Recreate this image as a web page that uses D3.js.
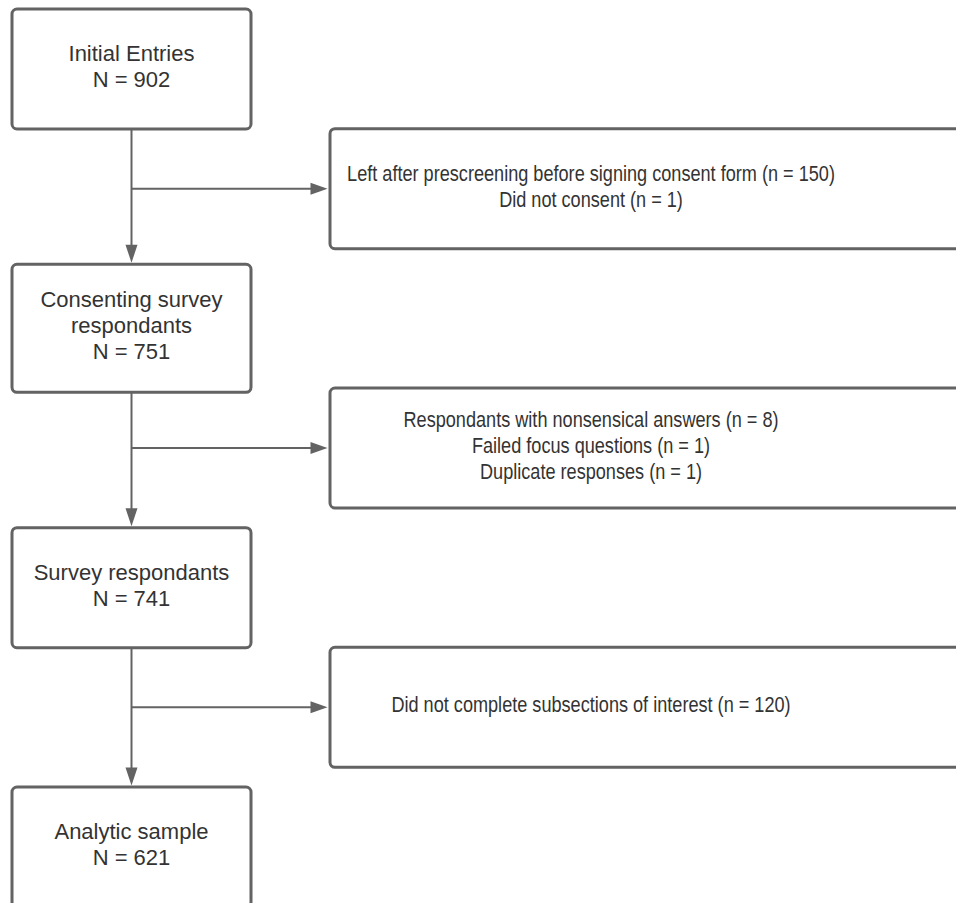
<!DOCTYPE html>
<html>
<head>
<meta charset="utf-8">
<script src="https://cdn.jsdelivr.net/npm/d3@7"></script>
<style>
  html, body { margin: 0; padding: 0; background: #ffffff; }
  svg { display: block; overflow: hidden; }
</style>
</head>
<body>
<svg id="chart" width="956" height="903"></svg>
<script>
// ---- data ----
const stageLabels = [
  ["Initial Entries"],
  ["Consenting survey", "respondants"],
  ["Survey respondants"],
  ["Analytic sample"]
];
const stageCounts = [902, 751, 741, 621];
const exclusionReasons = [
  ["Left after prescreening before signing consent form", "Did not consent"],
  ["Respondants with nonsensical answers", "Failed focus questions", "Duplicate responses"],
  ["Did not complete subsections of interest"]
];
const exclusionCounts = [
  [150, 1],
  [8, 1, 1],
  [120]
];

// ---- layout ----
const W = 956, H = 903;
const svg = d3.select("#chart");
const stroke = "#636363";
const textColor = "#333333";
const fontSize = 22;
const lineH = 26;

const yRow = d3.scaleLinear().domain([0, stageCounts.length - 1]).range([69, 847]);
const mainX = d3.scaleLinear().domain([0, 1]).range([12, 251]);   // left/right of main boxes
const sideX = d3.scaleLinear().domain([0, 1]).range([330, 1060]); // side boxes (cropped at right)
const spineX = 131.5;
const sideTextX = 591;

// detect narrow font availability
function measure(fam) {
  const t = svg.append("text").attr("font-family", fam).attr("font-size", fontSize)
    .text("Did not complete subsections of interest");
  const w = t.node().getComputedTextLength();
  t.remove();
  return w;
}
const wNarrow = measure("'Liberation Sans Narrow'");
const wRegular = measure("'Liberation Sans'");
const narrowOK = wNarrow / wRegular < 0.9;
const sideFamily = narrowOK ? "'Liberation Sans Narrow', 'Liberation Sans', Arial, sans-serif" : "'Liberation Sans', Arial, sans-serif";
const sideScale = narrowOK ? 1 : 0.824;

const gLines = svg.append("g");
const gBoxes = svg.append("g");

function boxHeight(nLines) { return 104 + 8 * nLines; }

// main stage boxes
const stages = stageCounts.map((n, i) => ({
  i, n, lines: stageLabels[i].concat([`N = ${n}`])
}));
stages.forEach(s => {
  s.cy = yRow(s.i);
  s.h = boxHeight(s.lines.length);
  s.top = s.cy - s.h / 2;
  s.bottom = s.cy + s.h / 2;
});

gBoxes.selectAll("rect.main").data(stages).join("rect")
  .attr("class", "main")
  .attr("x", mainX(0)).attr("width", mainX(1) - mainX(0))
  .attr("y", d => d.top).attr("height", d => d.h)
  .attr("rx", 5).attr("ry", 5)
  .attr("fill", "#fff").attr("stroke", stroke).attr("stroke-width", 3);

const mainText = gBoxes.selectAll("text.main").data(stages).join("text")
  .attr("class", "main")
  .attr("font-family", "'Liberation Sans', Arial, sans-serif")
  .attr("font-size", fontSize).attr("fill", textColor)
  .attr("text-anchor", "middle");
mainText.each(function(d) {
  const first = d.cy - (d.lines.length - 1) * lineH / 2 + 5;
  d3.select(this).selectAll("tspan").data(d.lines).join("tspan")
    .attr("x", spineX).attr("y", (l, k) => first + k * lineH).text(l => l);
});

// connectors
function arrowDown(x, tipY) {
  return `M${x - 6},${tipY - 18}L${x + 6},${tipY - 18}L${x},${tipY}Z`;
}
function arrowRight(tipX, y) {
  return `M${tipX - 17},${y - 6}L${tipX - 17},${y + 6}L${tipX},${y}Z`;
}
for (let i = 0; i < stages.length - 1; i++) {
  const a = stages[i], b = stages[i + 1];
  gLines.append("line")
    .attr("x1", spineX).attr("x2", spineX)
    .attr("y1", a.bottom).attr("y2", b.top - 14)
    .attr("stroke", stroke).attr("stroke-width", 2);
  gLines.append("path").attr("d", arrowDown(spineX, b.top - 1.5)).attr("fill", stroke);
}

// side exclusion boxes
const sides = exclusionCounts.map((counts, i) => ({
  i,
  lines: exclusionReasons[i].map((r, k) => `${r} (n = ${counts[k]})`)
}));
sides.forEach(s => {
  s.cy = yRow(s.i + 0.5) - 10;
  s.h = 120;
  s.top = s.cy - s.h / 2;
});

sides.forEach(s => {
  gLines.append("line")
    .attr("x1", spineX).attr("x2", sideX(0) - 14)
    .attr("y1", s.cy).attr("y2", s.cy)
    .attr("stroke", stroke).attr("stroke-width", 2);
  gLines.append("path").attr("d", arrowRight(sideX(0) - 2.5, s.cy)).attr("fill", stroke);
});

gBoxes.selectAll("rect.side").data(sides).join("rect")
  .attr("class", "side")
  .attr("x", sideX(0)).attr("width", sideX(1) - sideX(0))
  .attr("y", d => d.top).attr("height", d => d.h)
  .attr("rx", 5).attr("ry", 5)
  .attr("fill", "#fff").attr("stroke", stroke).attr("stroke-width", 3);

const sideText = gBoxes.selectAll("text.side").data(sides).join("text")
  .attr("class", "side")
  .attr("font-family", sideFamily)
  .attr("font-size", fontSize).attr("fill", textColor)
  .attr("text-anchor", "middle")
  .attr("transform", `translate(${sideTextX},0) scale(${sideScale},1)`);
sideText.each(function(d) {
  const first = d.cy - (d.lines.length - 1) * lineH / 2 + 5;
  d3.select(this).selectAll("tspan").data(d.lines).join("tspan")
    .attr("x", 0).attr("y", (l, k) => first + k * lineH).text(l => l);
});
</script>
</body>
</html>
